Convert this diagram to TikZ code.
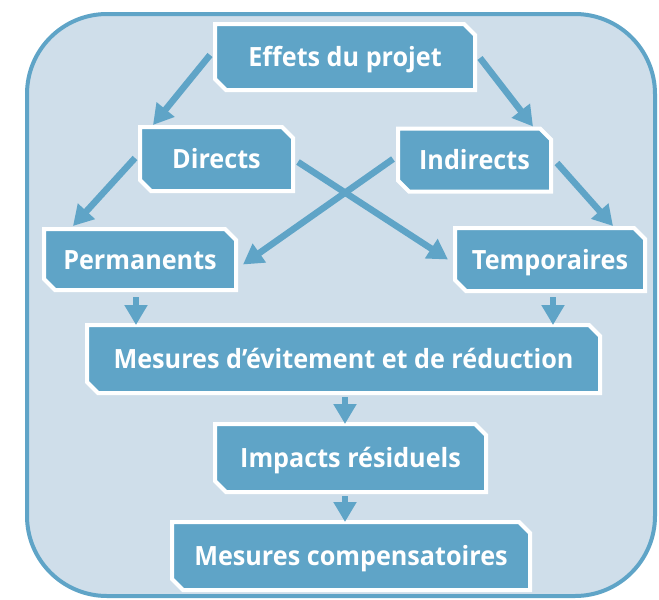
\documentclass[tikz,border=0pt]{standalone}
\usepackage{fontspec}
\setmainfont{Open Sans}
\usetikzlibrary{arrows.meta,backgrounds,calc}
\definecolor{bluebox}{RGB}{95,164,199}
\definecolor{bgpanel}{RGB}{207,222,234}
\tikzset{
  lbl/.style={inner sep=0pt, outer sep=0pt, text=white, text height=19pt, text depth=0pt,
    font=\bfseries\fontsize{26.5}{30}\selectfont\addfontfeature{FakeStretch=0.95}},
  chbox/.style={fill=bluebox, draw=white, line width=4pt, line join=miter},
  arr/.style={draw=bluebox, line width=6.5pt, -{Triangle[length=20pt,width=22pt]}},
}
\newcommand\chamf[1]{\path[chbox] (#1.north west) -- ([xshift=-11pt]#1.north east) -- ([yshift=-11pt]#1.north east) -- (#1.south east) -- ([xshift=11pt]#1.south west) -- ([yshift=11pt]#1.south west) -- cycle;}
\begin{document}
\begin{tikzpicture}[x=1pt,y=-1pt]
\useasboundingbox (0,0) rectangle (659,600);
\begin{pgfonlayer}{background}
\fill[white] (0,0) rectangle (659,600);
\draw[line width=4pt, draw=bluebox, fill=bgpanel, rounded corners=80pt] (27,14) rectangle (655,596);
\end{pgfonlayer}
\node[lbl, minimum width=260pt, minimum height=66pt] (eff) at (345,57) {Effets du projet};
\node[lbl, minimum width=153pt, minimum height=64pt] (dir) at (216.5,159) {Directs};
\node[lbl, minimum width=153pt, minimum height=63pt] (ind) at (474.5,160) {Indirects};
\node[lbl, minimum width=192pt, minimum height=61pt] (perm) at (140,259.5) {Permanents};
\node[lbl, minimum width=190pt, minimum height=63pt] (temp) at (550,259.5) {Temporaires};
\node[lbl, minimum width=513pt, minimum height=68pt] (mes) at (343.5,359) {Mesures d’évitement et de réduction};
\node[lbl, minimum width=271pt, minimum height=68pt] (imp) at (350.5,458) {Impacts résiduels};
\node[lbl, minimum width=358pt, minimum height=68pt] (comp) at (351,556) {Mesures compensatoires};
\begin{pgfonlayer}{background}
\chamf{eff}\chamf{dir}\chamf{ind}\chamf{perm}\chamf{temp}\chamf{mes}\chamf{imp}\chamf{comp}
\end{pgfonlayer}
\draw[arr] ([xshift=-5pt,yshift=2pt]eff.west) -- ([xshift=13pt,yshift=2pt]dir.north west);
\draw[arr] ([xshift=-5pt,yshift=1pt]dir.west) -- ([xshift=29pt,yshift=3pt]perm.north west);
\draw[arr] ([xshift=5pt,yshift=-1pt]eff.east) -- ([xshift=-18pt,yshift=2pt]ind.north east);
\draw[arr] ([xshift=6pt,yshift=-3pt]ind.east) -- ([xshift=-32pt,yshift=2pt]temp.north east);
\draw[arr] ([xshift=5pt,yshift=-3pt]dir.east) -- ([xshift=-7pt]temp.west);
\draw[arr] ([xshift=-5pt,yshift=1pt]ind.west) -- ([xshift=7pt,yshift=-5pt]perm.east);
\draw[arr] ($(perm.south)+(-4,7)$) -- ($(perm.south |- mes.north)+(-4,0)$);
\draw[arr] ($(temp.south)+(3,6)$) -- ($(temp.south |- mes.north)+(3,0)$);
\draw[arr] ($(mes.south)+(1.5,4)$) -- ($(mes.south |- imp.north)+(1.5,0)$);
\draw[arr] ($(imp.south)+(-5.5,4)$) -- ($(imp.south |- comp.north)+(-5.5,0)$);
\end{tikzpicture}
\end{document}
